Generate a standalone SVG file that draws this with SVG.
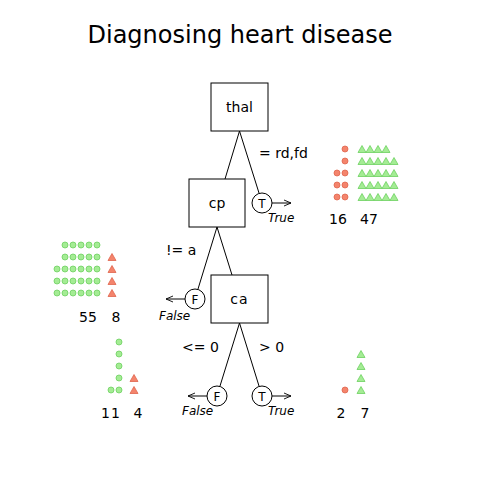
<svg xmlns="http://www.w3.org/2000/svg" width="480" height="480" viewBox="0 0 480 480">
<defs>
<style>
text{font-family:"DejaVu Sans",sans-serif;fill:#000}
.title{font-size:24px;text-anchor:middle}
.node rect{fill:#fff;stroke:#000;stroke-width:1}
.node text{font-size:14px;text-anchor:middle}
.lab{font-size:14px}
.it{font-size:11px;font-style:italic}
.cnt{font-size:14px;text-anchor:middle}
.edge{stroke:#000;stroke-width:1;fill:none}
.tf circle{fill:#fff;stroke:#000}
.tf text{font-size:12px;text-anchor:middle}
.r{fill:#f4846c;stroke:#e0644c;stroke-width:0.8}
.g{fill:#a4ec94;stroke:#6cd060;stroke-width:0.8}
</style>
<marker id="ah" markerWidth="8" markerHeight="8" refX="7" refY="4" orient="auto" markerUnits="userSpaceOnUse">
<path d="M0,1 L7,4 L0,7" fill="none" stroke="#000" stroke-width="0.9"/>
</marker>
<circle id="c" r="3"/>
<path id="t" d="M0,-3.5 L4,3.5 L-4,3.5 Z"/>
</defs>
<rect width="480" height="480" fill="#fff"/>
<text class="title" x="240" y="43">Diagnosing heart disease</text>

<g id="connectors">
<line class="edge" x1="239.5" y1="131" x2="225" y2="179"/>
<line class="edge" x1="239.5" y1="131" x2="259" y2="193"/>
<line class="edge" x1="217" y1="227" x2="198" y2="289"/>
<line class="edge" x1="217" y1="227" x2="232" y2="275"/>
<line class="edge" x1="239.5" y1="323" x2="220" y2="386"/>
<line class="edge" x1="239.5" y1="323" x2="259" y2="386"/>
<line class="edge" x1="272" y1="203" x2="291" y2="203" marker-end="url(#ah)"/>
<line class="edge" x1="185" y1="299" x2="166" y2="299" marker-end="url(#ah)"/>
<line class="edge" x1="207" y1="396" x2="188" y2="396" marker-end="url(#ah)"/>
<line class="edge" x1="272" y1="396" x2="291" y2="396" marker-end="url(#ah)"/>
</g>

<g id="edge-labels">
<text class="lab" x="259" y="158">= rd,fd</text>
<text class="lab" x="166" y="255">!= a</text>
<text class="lab" x="182" y="352">&lt;= 0</text>
<text class="lab" x="259" y="352">&gt; 0</text>
</g>

<g id="thal" class="node"><rect x="211" y="83" width="57" height="48"/><text x="239.5" y="112">thal</text></g>
<g id="cp" class="node"><rect x="189" y="179" width="56" height="48"/><text x="217" y="208">cp</text></g>
<g id="ca" class="node"><rect x="211" y="275" width="57" height="48"/><text x="239.5" y="304" letter-spacing="1">ca</text></g>

<g id="thal-true" class="tf"><circle cx="262" cy="203" r="10"/><text x="262" y="207.5">T</text><text class="it" x="268" y="222" style="text-anchor:start">True</text></g>
<g id="cp-false" class="tf"><circle cx="195" cy="299" r="10"/><text x="195" y="303.5">F</text><text class="it" x="159" y="320" style="text-anchor:start">False</text></g>
<g id="ca-false" class="tf"><circle cx="217" cy="396" r="10"/><text x="217" y="400.5">F</text><text class="it" x="182" y="415" style="text-anchor:start">False</text></g>
<g id="ca-true" class="tf"><circle cx="262" cy="396" r="10"/><text x="262" y="400.5">T</text><text class="it" x="268" y="415" style="text-anchor:start">True</text></g>

<g id="leaf-thal-true">
<use href="#c" class="r" x="345" y="149"/>
<use href="#c" class="r" x="345" y="161"/>
<use href="#c" class="r" x="337" y="173"/><use href="#c" class="r" x="345" y="173"/>
<use href="#c" class="r" x="337" y="185"/><use href="#c" class="r" x="345" y="185"/>
<use href="#c" class="r" x="337" y="197"/><use href="#c" class="r" x="345" y="197"/>
<use href="#t" class="g" x="362" y="149"/><use href="#t" class="g" x="370" y="149"/><use href="#t" class="g" x="378" y="149"/><use href="#t" class="g" x="386" y="149"/>
<use href="#t" class="g" x="362" y="161"/><use href="#t" class="g" x="370" y="161"/><use href="#t" class="g" x="378" y="161"/><use href="#t" class="g" x="386" y="161"/><use href="#t" class="g" x="394" y="161"/>
<use href="#t" class="g" x="362" y="173"/><use href="#t" class="g" x="370" y="173"/><use href="#t" class="g" x="378" y="173"/><use href="#t" class="g" x="386" y="173"/><use href="#t" class="g" x="394" y="173"/>
<use href="#t" class="g" x="362" y="185"/><use href="#t" class="g" x="370" y="185"/><use href="#t" class="g" x="378" y="185"/><use href="#t" class="g" x="386" y="185"/><use href="#t" class="g" x="394" y="185"/>
<use href="#t" class="g" x="362" y="197"/><use href="#t" class="g" x="370" y="197"/><use href="#t" class="g" x="378" y="197"/><use href="#t" class="g" x="386" y="197"/><use href="#t" class="g" x="394" y="197"/>
<text class="cnt" x="338" y="224">16</text><text class="cnt" x="369" y="224">47</text>
</g>

<g id="leaf-cp-false">
<use href="#c" class="g" x="65" y="245"/><use href="#c" class="g" x="73" y="245"/><use href="#c" class="g" x="81" y="245"/><use href="#c" class="g" x="89" y="245"/><use href="#c" class="g" x="97" y="245"/>
<use href="#c" class="g" x="65" y="257"/><use href="#c" class="g" x="73" y="257"/><use href="#c" class="g" x="81" y="257"/><use href="#c" class="g" x="89" y="257"/><use href="#c" class="g" x="97" y="257"/>
<use href="#c" class="g" x="57" y="269"/><use href="#c" class="g" x="65" y="269"/><use href="#c" class="g" x="73" y="269"/><use href="#c" class="g" x="81" y="269"/><use href="#c" class="g" x="89" y="269"/><use href="#c" class="g" x="97" y="269"/>
<use href="#c" class="g" x="57" y="281"/><use href="#c" class="g" x="65" y="281"/><use href="#c" class="g" x="73" y="281"/><use href="#c" class="g" x="81" y="281"/><use href="#c" class="g" x="89" y="281"/><use href="#c" class="g" x="97" y="281"/>
<use href="#c" class="g" x="57" y="293"/><use href="#c" class="g" x="65" y="293"/><use href="#c" class="g" x="73" y="293"/><use href="#c" class="g" x="81" y="293"/><use href="#c" class="g" x="89" y="293"/><use href="#c" class="g" x="97" y="293"/>
<use href="#t" class="r" x="112" y="257"/><use href="#t" class="r" x="112" y="269"/><use href="#t" class="r" x="112" y="281"/><use href="#t" class="r" x="112" y="293"/>
<text class="cnt" x="88" y="322">55</text><text class="cnt" x="116" y="322">8</text>
</g>

<g id="leaf-ca-false">
<use href="#c" class="g" x="119" y="342"/><use href="#c" class="g" x="119" y="354"/><use href="#c" class="g" x="119" y="366"/><use href="#c" class="g" x="119" y="378"/>
<use href="#c" class="g" x="111" y="390"/><use href="#c" class="g" x="119" y="390"/>
<use href="#t" class="r" x="134" y="378"/><use href="#t" class="r" x="134" y="390"/>
<text class="cnt" x="111" y="418" letter-spacing="1">11</text><text class="cnt" x="138" y="418">4</text>
</g>

<g id="leaf-ca-true">
<use href="#c" class="r" x="345" y="390"/>
<use href="#t" class="g" x="361" y="354"/><use href="#t" class="g" x="361" y="366"/><use href="#t" class="g" x="361" y="378"/><use href="#t" class="g" x="361" y="390"/>
<text class="cnt" x="341" y="418">2</text><text class="cnt" x="365" y="418">7</text>
</g>
</svg>
